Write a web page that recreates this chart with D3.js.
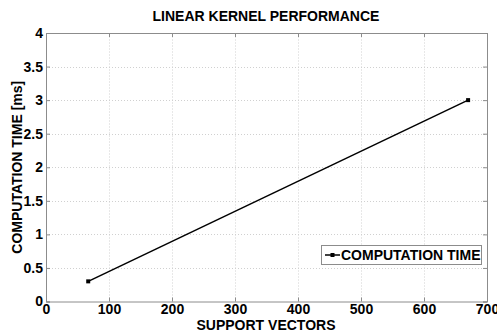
<!DOCTYPE html>
<html>
<head>
<meta charset="utf-8">
<script src="https://cdn.jsdelivr.net/npm/d3@7"></script>
<style>
  body { margin: 0; background: #fff; }
  svg { display: block; font-family: "Liberation Sans", Arial, sans-serif; font-weight: bold; }
</style>
</head>
<body>
<div id="chart"></div>
<script>
// values
const supportVectors = [67, 670];
const computationTime = [0.3, 3.0];
const xTicks = [0, 100, 200, 300, 400, 500, 600, 700];
const yTicks = [0, 0.5, 1, 1.5, 2, 2.5, 3, 3.5, 4];
const seriesName = "COMPUTATION TIME";

const width = 497, height = 333;
const margin = { top: 33, right: 10, bottom: 32, left: 46 };

const svg = d3.select("#chart").append("svg")
    .attr("width", width)
    .attr("height", height);

const x = d3.scaleLinear().domain([0, 700]).range([margin.left, width - margin.right]);
const y = d3.scaleLinear().domain([0, 4]).range([height - margin.bottom + 0.5, margin.top]);

const axisColor = "#8c8c8c";
const fontSize = 14;

// dotted grid
svg.append("g")
    .selectAll("line")
    .data(xTicks.slice(1, -1))
    .join("line")
    .attr("x1", d => Math.round(x(d)) + 0.5).attr("x2", d => Math.round(x(d)) + 0.5)
    .attr("y1", y(0)).attr("y2", y(4))
    .attr("stroke", "#d0d0d0").attr("stroke-dasharray", "1,2");

svg.append("g")
    .selectAll("line")
    .data(yTicks.slice(1, -1))
    .join("line")
    .attr("x1", x(0)).attr("x2", x(700))
    .attr("y1", d => Math.round(y(d)) + 0.5).attr("y2", d => Math.round(y(d)) + 0.5)
    .attr("stroke", "#d0d0d0").attr("stroke-dasharray", "1,2");

// axes: ticks point inwards, mirrored on top and right
const xAxis = d3.axisBottom(x).tickValues(xTicks).tickSize(-4).tickPadding(3).tickFormat(d3.format("d"));
const yAxis = d3.axisLeft(y).tickValues(yTicks).tickSize(-4).tickPadding(3).tickFormat(d => d);

function style(g) {
    g.select(".domain").attr("stroke", axisColor);
    g.selectAll(".tick line").attr("stroke", axisColor);
    g.selectAll(".tick text").attr("fill", "#000").attr("font-size", fontSize)
        .attr("font-family", "Liberation Sans, Arial, sans-serif").attr("font-weight", "bold");
}

svg.append("g").attr("transform", `translate(0,${y(0)})`).call(xAxis).call(style);
svg.append("g").attr("transform", `translate(${x(0)},0)`).call(yAxis).call(style);
svg.append("g").attr("transform", `translate(0,${y(4)})`)
    .call(d3.axisTop(x).tickValues(xTicks).tickSize(-4).tickFormat(""))
    .call(style);
svg.append("g").attr("transform", `translate(${x(700)},0)`)
    .call(d3.axisRight(y).tickValues(yTicks).tickSize(-4).tickFormat(""))
    .call(style);

// series
const pts = supportVectors.map((v, i) => [v, computationTime[i]]);
svg.append("path")
    .datum(pts)
    .attr("fill", "none")
    .attr("stroke", "#000")
    .attr("stroke-width", 1.5)
    .attr("d", d3.line().x(d => x(d[0])).y(d => y(d[1])));

svg.append("g")
    .selectAll("rect")
    .data(pts)
    .join("rect")
    .attr("x", d => x(d[0]) - 2).attr("y", d => y(d[1]) - 2)
    .attr("width", 4).attr("height", 4)
    .attr("fill", "#000");

// title and axis labels
svg.append("text")
    .attr("x", 266).attr("y", 21)
    .attr("text-anchor", "middle").attr("font-size", fontSize)
    .text("LINEAR KERNEL PERFORMANCE");

svg.append("text")
    .attr("x", 266).attr("y", 330)
    .attr("text-anchor", "middle").attr("font-size", fontSize)
    .text("SUPPORT VECTORS");

svg.append("text")
    .attr("transform", `translate(22,${(y(0) + y(4)) / 2}) rotate(-90)`)
    .attr("text-anchor", "middle").attr("font-size", fontSize)
    .text("COMPUTATION TIME [ms]");

// legend
const legend = svg.append("g").attr("transform", "translate(321,245)");
legend.append("rect")
    .attr("x", 0.5).attr("y", 0.5).attr("width", 160).attr("height", 19)
    .attr("fill", "#fff").attr("stroke", axisColor);
legend.append("line")
    .attr("x1", 4).attr("x2", 19).attr("y1", 10).attr("y2", 10)
    .attr("stroke", "#000").attr("stroke-width", 1.5);
legend.append("rect")
    .attr("x", 9.5).attr("y", 8).attr("width", 4).attr("height", 4).attr("fill", "#000");
legend.append("text")
    .attr("x", 20).attr("y", 15).attr("font-size", fontSize)
    .text(seriesName);
</script>
</body>
</html>
